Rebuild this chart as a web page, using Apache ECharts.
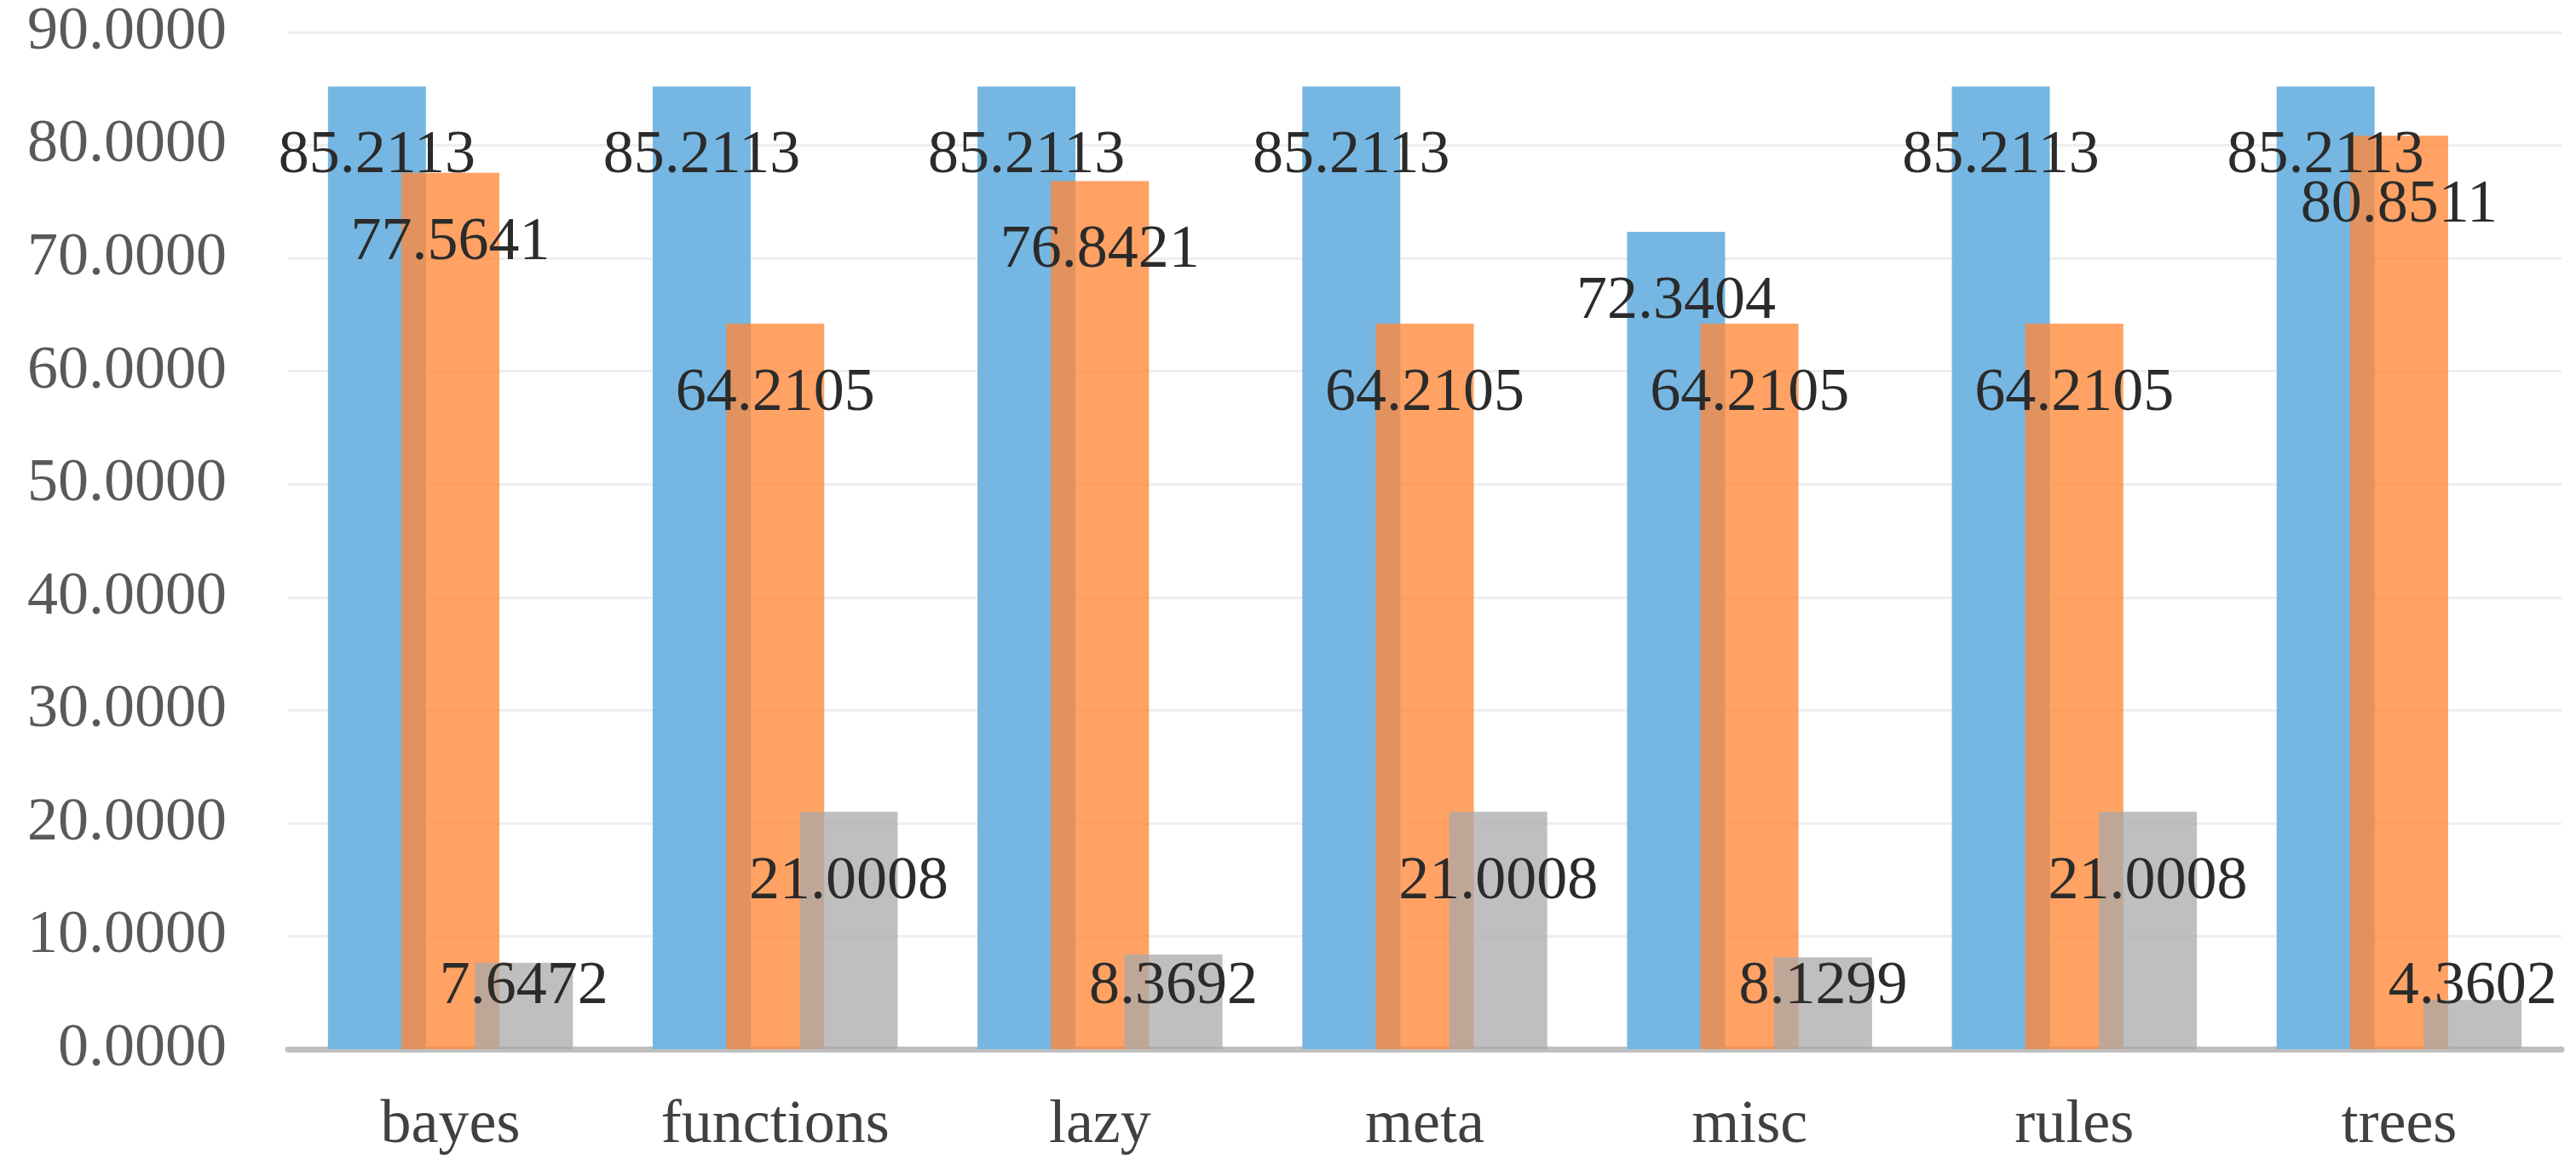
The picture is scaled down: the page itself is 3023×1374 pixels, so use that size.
<!DOCTYPE html>
<html><head><meta charset="utf-8">
<script src="https://cdn.jsdelivr.net/npm/echarts@6/dist/echarts.min.js"></script>
<style>html,body{margin:0;padding:0;background:#fff}#c{width:3023px;height:1374px}</style>
</head><body><div id="c"></div>
<script>
var categories = ['bayes','functions','lazy','meta','misc','rules','trees'];
var seriesA = [85.2113, 85.2113, 85.2113, 85.2113, 72.3404, 85.2113, 85.2113];
var seriesB = [77.5641, 64.2105, 76.8421, 64.2105, 64.2105, 64.2105, 80.8511];
var seriesC = [7.6472, 21.0008, 8.3692, 21.0008, 8.1299, 21.0008, 4.3602];
var yTicks = [0, 10, 20, 30, 40, 50, 60, 70, 80, 90];

var FONT = '"Liberation Serif","Times New Roman",serif';
var chart = echarts.init(document.getElementById('c'), null, {renderer:'canvas'});

function labelCfg(){
  return {show:true, position:['50%', 82], align:'center', verticalAlign:'middle',
    color:'#2b2b2b', fontFamily:FONT, fontSize:72,
    formatter:function(p){return p.value.toFixed(4);}};
}
function mkSeries(name, data, color){
  return {name:name, type:'bar', data:data, barWidth:115, barGap:'-25%',
    itemStyle:{color:color}, label:labelCfg()};
}
var option = {
  animation:false,
  grid:{left:338, right:17, top:38, bottom:143, containLabel:false},
  xAxis:{type:'category', data:categories,
    axisLine:{lineStyle:{color:'#BFBFBF', width:7}},
    axisTick:{show:false},
    axisLabel:{color:'#404040', fontFamily:FONT, fontSize:72, margin:54}},
  yAxis:{type:'value', min:yTicks[0], max:yTicks[yTicks.length-1], interval:10,
    axisLine:{show:false}, axisTick:{show:false},
    splitLine:{lineStyle:{color:'#EEEEEE', width:3}},
    axisLabel:{color:'#595959', fontFamily:FONT, fontSize:72, margin:72,
      formatter:function(v){return v.toFixed(4);}}},
  series:[
    mkSeries('A', seriesA, '#75B7E2'),
    mkSeries('B', seriesB, 'rgba(255,136,56,0.78)'),
    mkSeries('C', seriesC, 'rgba(170,170,170,0.75)')
  ]
};
chart.setOption(option);

// place labels ~82px below bar top, but no lower than ~73px above axis
var zeroPx = chart.convertToPixel({yAxisIndex:0}, 0);
function itemData(arr){
  return arr.map(function(v){
    var top = chart.convertToPixel({yAxisIndex:0}, v);
    var cy = Math.min(top + 82, zeroPx - 73);
    return {value:v, label:{position:['50%', cy - top]}};
  });
}
chart.setOption({series:[{data:itemData(seriesA)},{data:itemData(seriesB)},{data:itemData(seriesC)}]});
</script></body></html>
